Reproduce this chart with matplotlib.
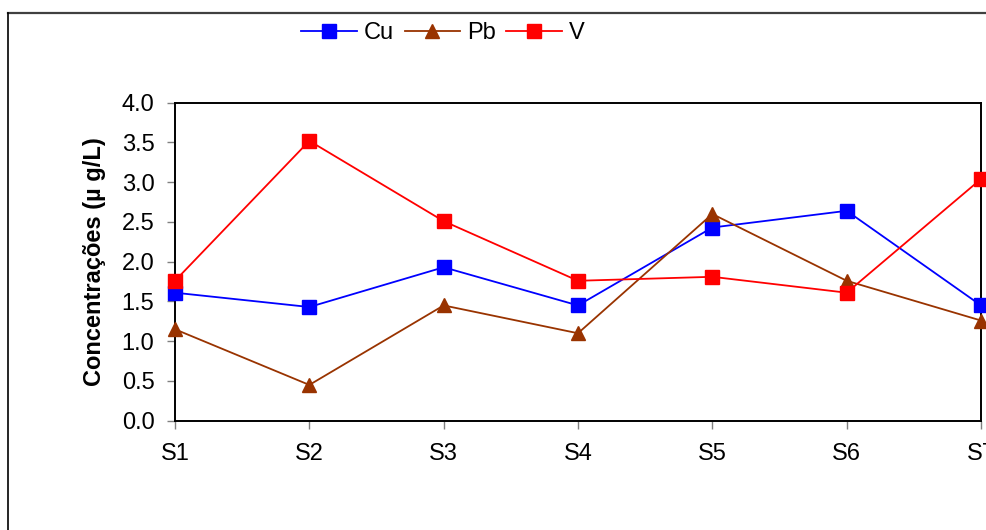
import matplotlib
matplotlib.use("Agg")
import matplotlib.pyplot as plt
from matplotlib.lines import Line2D

plt.rcParams['font.family'] = ['Liberation Sans', 'DejaVu Sans']

sites = ["S1", "S2", "S3", "S4", "S5", "S6", "S7"]
cu = [1.61, 1.43, 1.93, 1.45, 2.43, 2.64, 1.45]
pb = [1.15, 0.45, 1.45, 1.10, 2.60, 1.76, 1.26]
v = [1.76, 3.52, 2.51, 1.76, 1.81, 1.61, 3.04]
yticks = [0.0, 0.5, 1.0, 1.5, 2.0, 2.5, 3.0, 3.5, 4.0]

FS = 17
W, H = 987, 530
fig = plt.figure(figsize=(W / 100, H / 100), dpi=100)
ax = fig.add_axes([175 / W, 1 - 420.7 / H, (981 - 175) / W, (420.7 - 102.7) / H])

x = list(range(len(sites)))
ms = 9.4
ax.plot(x, cu, color='#0000FF', marker='s', markersize=ms, lw=1.3, label='Cu', clip_on=False, zorder=3)
ax.plot(x, pb, color='#993300', marker='^', markersize=ms + 0.6, lw=1.3, label='Pb', clip_on=False, zorder=3)
ax.plot(x, v, color='#FF0000', marker='s', markersize=ms, lw=1.3, label='V', clip_on=False, zorder=3)

ax.set_xlim(0, len(sites) - 1)
ax.set_ylim(0, 4.0)
ax.set_xticks(x)
ax.set_xticklabels(sites)
ax.set_yticks(yticks)
ax.set_yticklabels([f"{t:.1f}" for t in yticks])
ax.tick_params(axis='both', direction='out', length=5.8, width=1, color='#808080',
               labelsize=FS, labelcolor='black')
ax.tick_params(axis='x', pad=10)
ax.tick_params(axis='y', pad=9)
for s in ax.spines.values():
    s.set_linewidth(1.4)
    s.set_color('black')

ax.set_ylabel("Concentrações (µ g/L)", fontsize=FS, fontweight='bold')
ax.yaxis.set_label_coords((95 - 175) / (981 - 175), 0.5)
ax.yaxis.label.set_verticalalignment('center')

fig.legend(loc='center', bbox_to_anchor=(443 / W, 1 - 33 / H), ncol=3, frameon=False,
           fontsize=FS, handlelength=2.35, handletextpad=0.3, columnspacing=0.45,
           borderaxespad=0, borderpad=0)

# outer frame
fig.add_artist(Line2D([8 / W, 1.0], [1 - 13 / H, 1 - 13 / H], transform=fig.transFigure,
                      color='#404040', lw=1.6))
fig.add_artist(Line2D([8 / W, 8 / W], [0, 1 - 13 / H], transform=fig.transFigure,
                      color='black', lw=1.2))

fig.savefig("out.png", dpi=100)
